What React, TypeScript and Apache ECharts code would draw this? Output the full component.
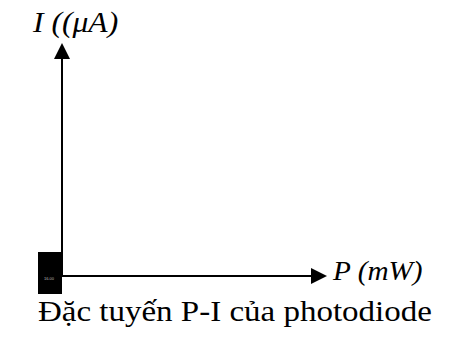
import React, { useEffect, useRef } from "react";
import * as echarts from "echarts";

// Axis titles and caption of the P-I characteristic sketch
const yAxisTitle = "I ((μA)";
const xAxisTitle = "P (mW)";
const caption = "Đặc tuyến P-I của photodiode";
// Axis ranges (the sketch carries no measured points)
const xRange = [0, 1];
const yRange = [0, 1];
const curve: number[][] = [];

const SERIF = "Liberation Serif";

export default function App() {
  const ref = useRef<HTMLDivElement>(null);

  useEffect(() => {
    if (!ref.current) return;
    const chart = echarts.init(ref.current, null, { renderer: "svg" });
    const axisLine = {
      show: true,
      symbol: ["none", "triangle"],
      symbolSize: [16, 16],
      lineStyle: { color: "#000", width: 2 },
    };
    chart.setOption({
      animation: false,
      backgroundColor: "#fff",
      grid: { left: 62, top: 51, right: 132, bottom: 64 },
      xAxis: {
        type: "value",
        min: xRange[0],
        max: xRange[1],
        axisLine,
        axisTick: { show: false },
        axisLabel: { show: false },
        splitLine: { show: false },
      },
      yAxis: {
        type: "value",
        min: yRange[0],
        max: yRange[1],
        axisLine,
        axisTick: { show: false },
        axisLabel: { show: false },
        splitLine: { show: false },
      },
      series: [{ type: "line", data: curve, showSymbol: false }],
      graphic: [
        {
          type: "rect",
          shape: { x: 38, y: 252, width: 24, height: 42 },
          style: { fill: "#000" },
          z: 10,
        },
        {
          type: "text",
          x: 44,
          y: 276,
          style: { text: "16.00", fill: "#bbb", fontSize: 4, fontFamily: "sans-serif" },
          z: 11,
        },
        {
          type: "text",
          x: 33,
          y: 8,
          scaleX: 1.09,
          style: {
            text: yAxisTitle,
            fill: "#000",
            fontFamily: SERIF,
            fontStyle: "italic",
            fontSize: 29,
          },
        },
        {
          type: "text",
          x: 333,
          y: 256,
          scaleX: 1.045,
          style: {
            text: xAxisTitle,
            fill: "#000",
            fontFamily: SERIF,
            fontStyle: "italic",
            fontSize: 28,
          },
        },
        {
          type: "text",
          x: 38,
          y: 296,
          scaleX: 1.1,
          style: {
            text: caption,
            fill: "#000",
            fontFamily: SERIF,
            fontSize: 30,
          },
        },
      ],
    });
    return () => chart.dispose();
  }, []);

  return (
    <div
      ref={ref}
      style={{ position: "absolute", left: 0, top: 0, width: 451, height: 340 }}
    />
  );
}
